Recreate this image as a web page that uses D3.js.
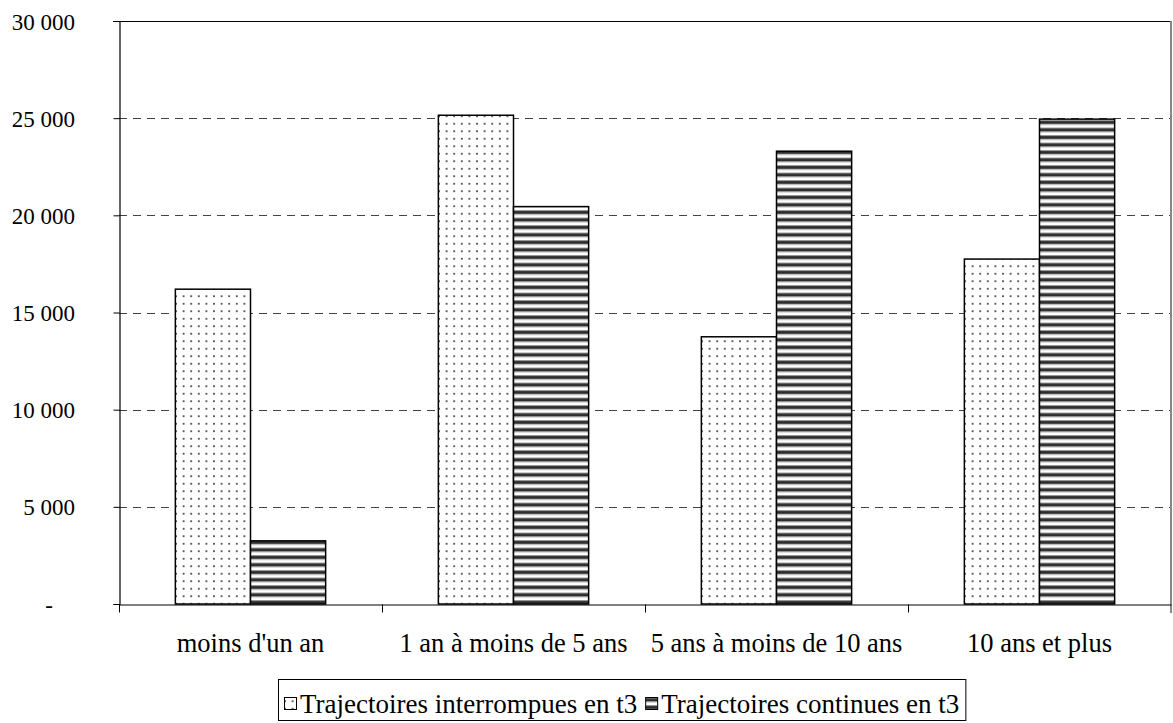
<!DOCTYPE html>
<html>
<head>
<meta charset="utf-8">
<script src="https://cdn.jsdelivr.net/npm/d3@7"></script>
<style>
  html, body { margin: 0; padding: 0; background: #fff; }
  svg { display: block; font-family: "Liberation Serif", "Times New Roman", serif; }
</style>
</head>
<body>
<svg id="chart" width="1173" height="723"></svg>
<script>
// Durée (catégories) et effectifs par type de trajectoire
const categories = ["moins d'un an", "1 an à moins de 5 ans", "5 ans à moins de 10 ans", "10 ans et plus"];
const seriesNames = ["Trajectoires interrompues en t3", "Trajectoires continues en t3"];
const interrompues = [16200, 25150, 13750, 17750];
const continues = [3250, 20450, 23300, 24950];
const yTicks = [0, 5000, 10000, 15000, 20000, 25000, 30000];

const svg = d3.select("#chart");
const plotLeft = 119, plotRight = 1171, plotTop = 21, plotBottom = 604;
const serif = "Liberation Serif, Times New Roman, serif";

const x = d3.scaleBand().domain(categories).range([plotLeft, plotRight]).paddingInner(0).paddingOuter(0);
const xs = d3.scaleBand().domain(seriesNames).range([0, x.bandwidth()]).paddingInner(0).paddingOuter(0.75);
const y = d3.scaleLinear().domain([0, 30000]).range([plotBottom, plotTop]);

// Motifs de remplissage
const defs = svg.append("defs");
const dots = defs.append("pattern").attr("id", "dots").attr("patternUnits", "userSpaceOnUse")
  .attr("width", 7.6).attr("height", 7.5);
dots.append("rect").attr("width", 7.6).attr("height", 7.5).attr("fill", "#fff");
dots.append("circle").attr("cx", 3.8).attr("cy", 3.7).attr("r", 1).attr("fill", "#333");

const stripes = defs.append("pattern").attr("id", "stripes").attr("patternUnits", "userSpaceOnUse")
  .attr("width", 8).attr("height", 7.5);
stripes.append("rect").attr("width", 8).attr("height", 7.5).attr("fill", "#fff");
stripes.append("rect").attr("y", 0).attr("width", 8).attr("height", 1).attr("fill", "#999");
stripes.append("rect").attr("y", 1).attr("width", 8).attr("height", 3).attr("fill", "#2e2e2e");
stripes.append("rect").attr("y", 4).attr("width", 8).attr("height", 1).attr("fill", "#aaa");

const fills = { [seriesNames[0]]: "url(#dots)", [seriesNames[1]]: "url(#stripes)" };

// Lignes de quadrillage
svg.append("g").selectAll("line").data(yTicks.filter(d => d > 0 && d < 30000)).join("line")
  .attr("x1", plotLeft).attr("x2", plotRight)
  .attr("y1", d => Math.round(y(d)) + 0.5).attr("y2", d => Math.round(y(d)) + 0.5)
  .attr("stroke", "#444").attr("stroke-width", 1).attr("stroke-dasharray", "8,6");

// Barres
const rows = categories.map((c, i) => ({ cat: c, values: [
  { name: seriesNames[0], value: interrompues[i] },
  { name: seriesNames[1], value: continues[i] } ] }));

const groups = svg.append("g").selectAll("g").data(rows).join("g")
  .attr("transform", d => `translate(${x(d.cat)},0)`);
groups.selectAll("rect").data(d => d.values).join("rect")
  .attr("x", d => xs(d.name))
  .attr("y", d => y(d.value))
  .attr("width", xs.bandwidth())
  .attr("height", d => y(0) - y(d.value))
  .attr("fill", d => fills[d.name])
  .attr("stroke", "#000").attr("stroke-width", 1.5);

// Bordure de la zone de tracé
svg.append("line").attr("x1", plotLeft - 6).attr("x2", plotRight).attr("y1", plotTop + 0.5).attr("y2", plotTop + 0.5)
  .attr("stroke", "#000").attr("stroke-width", 1.2);
svg.append("line").attr("x1", plotRight).attr("x2", plotRight).attr("y1", plotTop).attr("y2", plotBottom + 9)
  .attr("stroke", "#888").attr("stroke-width", 2);

// Axe vertical
const yAxis = d3.axisLeft(y).tickValues(yTicks).tickSize(6).tickPadding(0)
  .tickFormat(d => d === 0 ? "-" : d3.format(",")(d).replace(/,/g, "\u00a0"));
const gy = svg.append("g").attr("transform", `translate(${plotLeft + 0.5},0)`).call(yAxis);
gy.select(".domain").attr("stroke", "#000").attr("stroke-width", 1.2);
gy.selectAll(".tick line").attr("stroke", "#000");
gy.selectAll(".tick text")
  .attr("x", d => d === 0 ? -66.5 : -44.5)
  .attr("dy", "0.35em")
  .attr("font-family", serif)
  .attr("font-size", 23).attr("fill", "#000");

// Axe horizontal
const xAxis = d3.axisBottom(x).tickSize(0).tickPadding(0);
const gx = svg.append("g").attr("transform", `translate(0,${plotBottom + 0.5})`).call(xAxis);
gx.select(".domain").attr("stroke", "#000").attr("stroke-width", 1.2);
gx.selectAll(".tick text").attr("y", 47).attr("dy", 0)
  .attr("font-family", serif)
  .attr("font-size", 26.5).attr("fill", "#000");
// Graduations entre les catégories
const bounds = categories.map(c => x(c)).concat([x(categories[categories.length - 1]) + x.bandwidth()]);
gx.append("g").selectAll("line").data(bounds.slice(0, -1)).join("line")
  .attr("x1", d => Math.round(d) + 0.5).attr("x2", d => Math.round(d) + 0.5)
  .attr("y1", 0).attr("y2", 8).attr("stroke", "#000");

// Légende
const legend = svg.append("g");
const boxLeft = 278;
const box = legend.append("rect").attr("x", boxLeft + 0.5).attr("y", 679.5).attr("height", 41)
  .attr("fill", "#fff").attr("stroke", "#000").attr("stroke-width", 1);
let lx = boxLeft + 6;
seriesNames.forEach((name) => {
  legend.append("rect").attr("x", lx + 0.5).attr("y", 697.5).attr("width", 12).attr("height", 12)
    .attr("fill", fills[name]).attr("stroke", "#000").attr("stroke-width", 1);
  const t = legend.append("text").attr("x", lx + 16).attr("y", 713)
    .attr("font-family", serif).attr("font-size", 27).attr("fill", "#000").text(name);
  lx += 16 + t.node().getComputedTextLength() + 8;
});
box.attr("width", lx - 8 + 6 - boxLeft);
</script>
</body>
</html>
